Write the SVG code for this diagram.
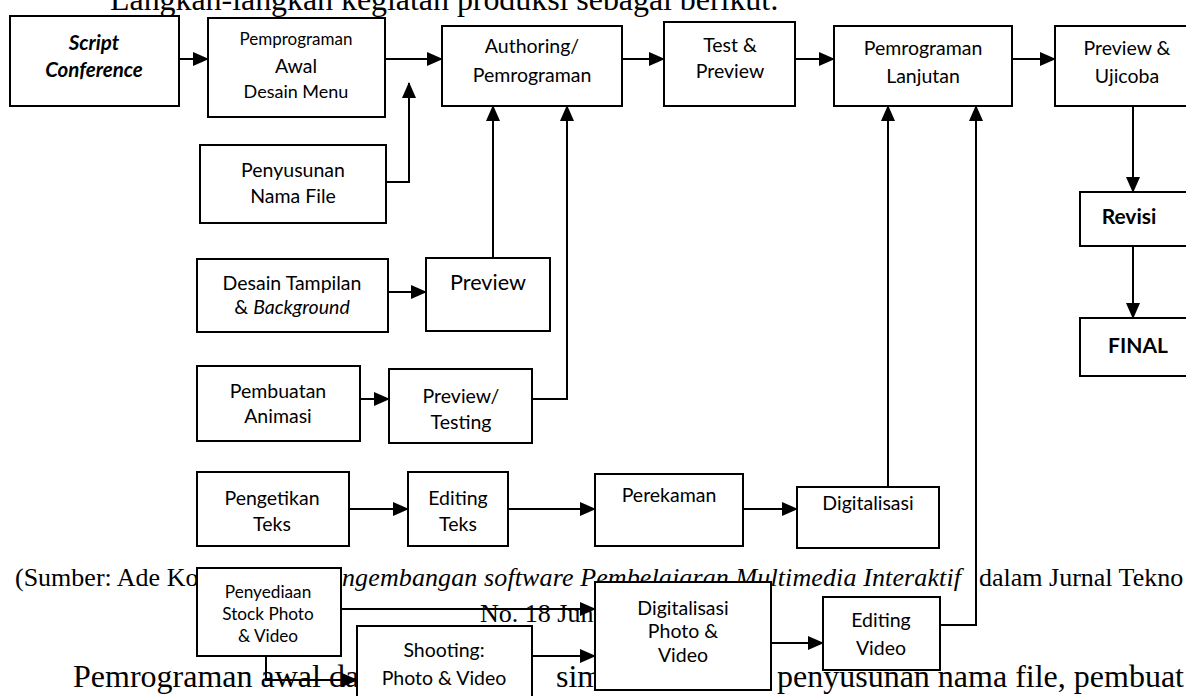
<svg xmlns="http://www.w3.org/2000/svg" width="1186" height="696" viewBox="0 0 1186 696">
<style>
.bg{font-family:"Liberation Serif","Times New Roman",serif;fill:#000}
.body{font-size:32px}
.cap{font-size:26px}
.box{fill:#fff;stroke:#000;stroke-width:2}
.t{font-family:Lato,"Open Sans",sans-serif;font-size:19.5px;text-anchor:middle;fill:#000}
.b{font-weight:bold}
.i{font-style:italic}
.ln{fill:none;stroke:#000;stroke-width:2;marker-end:url(#ah)}
</style>
<defs>
<marker id="ah" markerUnits="userSpaceOnUse" markerWidth="16" markerHeight="14" refX="15" refY="7" orient="auto" viewBox="0 0 16 14"><path d="M0,0 L16,7 L0,14 Z" fill="#000"/></marker>
</defs>
<g id="page-text">
<text class="bg body" x="110" y="10" textLength="669">Langkah-langkah kegiatan produksi sebagai berikut:</text>
<text class="bg cap" x="15" y="586">(Sumber: Ade Ko</text>
<text class="bg cap i" x="342" y="586" textLength="619">ngembangan software Pembelajaran Multimedia Interaktif</text>
<text class="bg cap" x="979" y="586">dalam Jurnal Tekno</text>
<text class="bg cap" x="480" y="622">No. 18 Jun</text>
<text class="bg body" x="73" y="687">Pemrograman awal da</text>
<text class="bg body" x="556" y="687">sim</text>
<text class="bg body" x="777" y="687">penyusunan nama file, pembuat</text>
</g>
<g id="connectors">
<path class="ln" d="M179,59 H208"/>
<path class="ln" d="M385,59 H442"/>
<path class="ln" d="M622,59 H664"/>
<path class="ln" d="M795,59 H834"/>
<path class="ln" d="M1012,59 H1055"/>
<path class="ln" d="M386,182 H409 V83"/>
<path class="ln" d="M493,258 V106"/>
<path class="ln" d="M530,399 H567 V106"/>
<path class="ln" d="M388,292 H426"/>
<path class="ln" d="M360,399 H389"/>
<path class="ln" d="M349,509 H408"/>
<path class="ln" d="M508,509 H595"/>
<path class="ln" d="M743,509 H797"/>
<path class="ln" d="M888,487 V106"/>
<path class="ln" d="M940,625 H976 V106"/>
<path class="ln" d="M1133,106 V192"/>
<path class="ln" d="M1133,246 V318"/>
<path class="ln" d="M341,609 H595"/>
<path class="ln" d="M532,656 H595"/>
<path class="ln" d="M266,656 V680 H357"/>
<path class="ln" d="M771,643 H823"/>
</g>
<g id="n-script"><rect class="box" x="10" y="16" width="169" height="90"/>
<text class="t b i" style="font-size:20.5px" x="94" y="50">Script</text>
<text class="t b i" style="font-size:20.5px" x="94" y="77">Conference</text></g>
<g id="n-awal"><rect class="box" x="208" y="18" width="177" height="99"/>
<text class="t" style="font-size:17px" x="296" y="45">Pemprograman</text>
<text class="t" x="296" y="73">Awal</text>
<text class="t" style="font-size:18px" x="296" y="98">Desain Menu</text></g>
<g id="n-authoring"><rect class="box" x="442" y="26" width="180" height="80"/>
<text class="t" x="532" y="53">Authoring/</text>
<text class="t" x="532" y="82">Pemrograman</text></g>
<g id="n-test"><rect class="box" x="664" y="22" width="131" height="84"/>
<text class="t" x="730" y="52">Test &amp;</text>
<text class="t" x="730" y="78">Preview</text></g>
<g id="n-lanjutan"><rect class="box" x="834" y="26" width="178" height="80"/>
<text class="t" x="923" y="55">Pemrograman</text>
<text class="t" x="923" y="83">Lanjutan</text></g>
<g id="n-ujicoba"><rect class="box" x="1055" y="26" width="145" height="80"/>
<text class="t" x="1127" y="55">Preview &amp;</text>
<text class="t" x="1127" y="83">Ujicoba</text></g>
<g id="n-penyusunan"><rect class="box" x="200" y="145" width="186" height="78"/>
<text class="t" x="293" y="177">Penyusunan</text>
<text class="t" x="293" y="203">Nama File</text></g>
<g id="n-desain"><rect class="box" x="197" y="259" width="191" height="73"/>
<text class="t" x="292" y="290">Desain Tampilan</text>
<text class="t" x="292" y="314">&amp; <tspan class="i">Background</tspan></text></g>
<g id="n-preview"><rect class="box" x="426" y="258" width="124" height="73"/>
<text class="t" style="font-size:21.6px" x="488" y="290">Preview</text></g>
<g id="n-animasi"><rect class="box" x="197" y="366" width="163" height="75"/>
<text class="t" x="278" y="398">Pembuatan</text>
<text class="t" x="278" y="423">Animasi</text></g>
<g id="n-testing"><rect class="box" x="389" y="369" width="143" height="74"/>
<text class="t" x="461" y="403">Preview/</text>
<text class="t" x="461" y="429">Testing</text></g>
<g id="n-pengetikan"><rect class="box" x="197" y="472" width="152" height="74"/>
<text class="t" x="272" y="505">Pengetikan</text>
<text class="t" x="272" y="531">Teks</text></g>
<g id="n-editingteks"><rect class="box" x="408" y="472" width="100" height="74"/>
<text class="t" x="458" y="505">Editing</text>
<text class="t" x="458" y="531">Teks</text></g>
<g id="n-perekaman"><rect class="box" x="595" y="474" width="148" height="72"/>
<text class="t" x="669" y="502">Perekaman</text></g>
<g id="n-digitalisasi"><rect class="box" x="797" y="487" width="142" height="61"/>
<text class="t" x="868" y="510">Digitalisasi</text></g>
<g id="n-revisi"><rect class="box" x="1080" y="192" width="120" height="54"/>
<text class="t b" style="font-size:21px" x="1129" y="224">Revisi</text></g>
<g id="n-final"><rect class="box" x="1080" y="318" width="120" height="58"/>
<text class="t b" style="font-size:21px" x="1138" y="353">FINAL</text></g>
<g id="n-penyediaan"><rect class="box" x="197" y="568" width="144" height="88"/>
<text class="t" style="font-size:17.2px" x="268" y="598">Penyediaan</text>
<text class="t" style="font-size:17.2px" x="268" y="620">Stock Photo</text>
<text class="t" style="font-size:17.2px" x="268" y="642">&amp; Video</text></g>
<g id="n-shooting"><rect class="box" x="357" y="626" width="175" height="80"/>
<text class="t" x="444" y="657">Shooting:</text>
<text class="t" x="444" y="685">Photo &amp; Video</text></g>
<g id="n-digphoto"><rect class="box" x="595" y="582" width="176" height="108"/>
<text class="t" x="683" y="615">Digitalisasi</text>
<text class="t" x="683" y="638">Photo &amp;</text>
<text class="t" x="683" y="662">Video</text></g>
<g id="n-editingvideo"><rect class="box" x="823" y="597" width="117" height="73"/>
<text class="t" x="881" y="627">Editing</text>
<text class="t" x="881" y="655">Video</text></g>
</svg>
